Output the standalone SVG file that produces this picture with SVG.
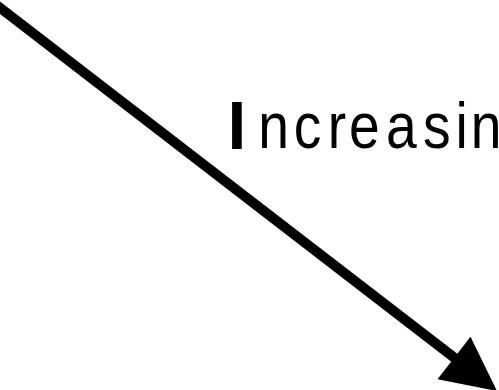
<svg xmlns="http://www.w3.org/2000/svg" width="499" height="390" viewBox="0 0 499 390">
<style>
.lbl{font-family:"Liberation Sans",Arial,sans-serif;font-size:65px;fill:#000}
.stem{font-weight:bold;stroke:#000;stroke-width:2}
.conn{stroke:#000;stroke-width:10;fill:none}
</style>
<rect width="499" height="390" fill="#fff"/>
<g id="connectors">
<line class="conn" x1="-10" y1="0" x2="456" y2="359"/>
<polygon points="497,391 437.5,379.3 470.5,336.7" fill="#000"/>
</g>
<g id="label">
<text class="lbl" transform="scale(0.85 1)" y="148"><tspan class="stem" x="269.8">I</tspan><tspan x="303.95 345.46 385.5 410.6 454 497.8 535.8 553.8">ncreasin</tspan></text>
</g>
</svg>
